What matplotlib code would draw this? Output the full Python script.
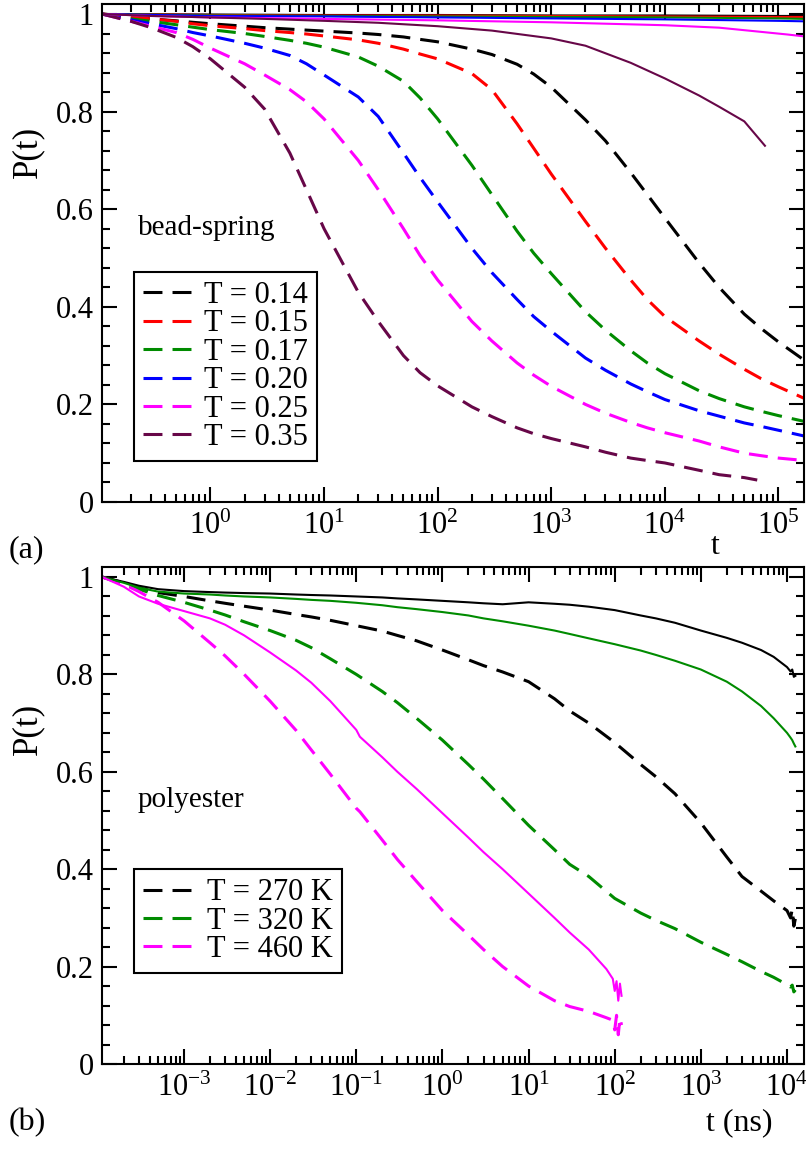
import matplotlib
matplotlib.use("Agg")
import matplotlib.pyplot as plt
from matplotlib.ticker import (FixedLocator, MultipleLocator, LogFormatterMathtext,
                               NullFormatter, FuncFormatter)

plt.rcParams['font.family'] = ['Liberation Serif', 'DejaVu Serif']
plt.rcParams['mathtext.fontset'] = 'custom'
plt.rcParams['mathtext.rm'] = 'Liberation Serif'
plt.rcParams['mathtext.it'] = 'Liberation Serif:italic'
plt.rcParams['mathtext.bf'] = 'Liberation Serif:bold'

# ---------------- (a) bead-spring model ----------------
t_bs = [0.111, 0.2, 0.3, 0.5, 0.7, 1, 2, 3, 5, 7, 10, 20, 30, 50, 70, 100, 200, 300,
        500, 700, 1e3, 2e3, 3e3, 5e3, 7e3, 1e4, 2e4, 3e4, 5e4, 7e4, 1e5, 1.7e5]
p_014 = [1.0, 0.995, 0.99, 0.986, 0.983, 0.980, 0.975, 0.972, 0.969, 0.967, 0.965,
         0.961, 0.958, 0.953, 0.948, 0.943, 0.928, 0.917, 0.897, 0.877, 0.85, 0.783,
         0.74, 0.675, 0.63, 0.582, 0.49, 0.44, 0.385, 0.356, 0.328, 0.29]
p_015 = [1.0, 0.994, 0.99, 0.985, 0.98, 0.976, 0.97, 0.966, 0.962, 0.959, 0.955,
         0.947, 0.94, 0.928, 0.918, 0.908, 0.878, 0.845, 0.775, 0.725, 0.672, 0.575,
         0.52, 0.455, 0.415, 0.38, 0.33, 0.303, 0.272, 0.253, 0.236, 0.212]
p_017 = [1.0, 0.99, 0.985, 0.978, 0.973, 0.968, 0.96, 0.954, 0.946, 0.94, 0.932,
         0.912, 0.893, 0.862, 0.828, 0.785, 0.69, 0.63, 0.555, 0.51, 0.468, 0.39,
         0.352, 0.31, 0.285, 0.263, 0.228, 0.212, 0.195, 0.186, 0.177, 0.165]
p_020 = [1.0, 0.988, 0.98, 0.97, 0.962, 0.955, 0.94, 0.93, 0.915, 0.898, 0.875,
         0.83, 0.79, 0.715, 0.665, 0.615, 0.52, 0.47, 0.415, 0.38, 0.35, 0.295,
         0.27, 0.242, 0.226, 0.21, 0.187, 0.176, 0.162, 0.155, 0.147, 0.135]
p_025 = [1.0, 0.985, 0.975, 0.962, 0.948, 0.93, 0.898, 0.875, 0.845, 0.82, 0.785,
         0.70, 0.64, 0.56, 0.505, 0.455, 0.37, 0.33, 0.285, 0.26, 0.237, 0.2,
         0.182, 0.163, 0.152, 0.142, 0.125, 0.113, 0.1, 0.095, 0.09, 0.085]
t_bs_035 = [0.111, 0.2, 0.3, 0.5, 0.7, 1, 2, 3, 5, 7, 10, 20, 30, 50, 70, 100, 200, 300,
            500, 700, 1e3, 2e3, 3e3, 5e3, 7e3, 1e4, 2e4, 3e4, 5e4, 6.5e4]
p_035 = [1.0, 0.985, 0.972, 0.952, 0.933, 0.908, 0.85, 0.805, 0.715, 0.64, 0.56,
         0.43, 0.37, 0.3, 0.265, 0.238, 0.195, 0.175, 0.152, 0.14, 0.13, 0.113,
         0.102, 0.09, 0.085, 0.08, 0.065, 0.056, 0.05, 0.045]

# solid curves of panel (a)
t_bs_solid = [0.111, 1, 10, 100, 1e3, 1e4, 1e5, 1.7e5]
s_014 = [1.0, 0.999, 0.998, 0.998, 0.997, 0.997, 0.996, 0.996]
s_015 = [1.0, 0.998, 0.997, 0.997, 0.996, 0.995, 0.994, 0.994]
s_017 = [1.0, 0.997, 0.996, 0.995, 0.994, 0.993, 0.991, 0.99]
s_020 = [1.0, 0.996, 0.995, 0.993, 0.991, 0.989, 0.986, 0.985]
t_bs_s025 = [0.111, 0.3, 1, 10, 100, 1e3, 1e4, 3e4, 6e4, 1.2e5, 1.7e5]
s_025 = [1.0, 0.996, 0.993, 0.99, 0.987, 0.983, 0.977, 0.972, 0.965, 0.958, 0.954]
t_bs_s035 = [0.111, 0.3, 1, 3, 10, 30, 100, 300, 1e3, 2e3, 5e3, 1e4, 2e4, 3e4, 5e4, 7.6e4]
s_035 = [1.0, 0.996, 0.993, 0.99, 0.986, 0.982, 0.975, 0.966, 0.95, 0.935, 0.9,
         0.868, 0.833, 0.81, 0.78, 0.73]

labels_bs = ['T = 0.14', 'T = 0.15', 'T = 0.17', 'T = 0.20', 'T = 0.25', 'T = 0.35']

# ---------------- (b) polyester ----------------
t_pe = [1.12e-4, 2e-4, 3e-4, 5e-4, 1e-3, 2e-3, 3e-3, 5e-3, 1e-2, 2e-2, 3e-2, 5e-2,
        0.1, 0.2, 0.3, 0.5, 1, 2, 3, 5, 10, 20, 30, 50, 100, 200, 300, 500,
        1e3, 2e3, 3e3, 5e3, 7e3, 1e4, 1.1e4, 1.15e4, 1.2e4, 1.25e4]
d_270 = [1.0, 0.988, 0.978, 0.968, 0.96, 0.951, 0.946, 0.94, 0.932, 0.923, 0.918,
         0.911, 0.9, 0.889, 0.88, 0.869, 0.85, 0.83, 0.818, 0.805, 0.785, 0.75,
         0.725, 0.7, 0.66, 0.615, 0.59, 0.555, 0.495, 0.425, 0.385, 0.355, 0.335,
         0.315, 0.3, 0.318, 0.283, 0.298]
d_320 = [1.0, 0.985, 0.975, 0.962, 0.948, 0.932, 0.922, 0.908, 0.89, 0.87, 0.855,
         0.832, 0.8, 0.765, 0.742, 0.71, 0.665, 0.615, 0.585, 0.545, 0.49, 0.44,
         0.41, 0.385, 0.34, 0.31, 0.295, 0.278, 0.25, 0.225, 0.21, 0.19, 0.178,
         0.163, 0.158, 0.162, 0.148, 0.152]
s_270 = [1.0, 0.99, 0.982, 0.975, 0.971, 0.969, 0.968, 0.967, 0.966, 0.964, 0.963,
         0.962, 0.96, 0.958, 0.956, 0.954, 0.951, 0.948, 0.946, 0.944, 0.948, 0.945,
         0.943, 0.939, 0.932, 0.921, 0.915, 0.906, 0.89, 0.875, 0.865, 0.85, 0.836,
         0.815, 0.806, 0.81, 0.795, 0.797]
s_320 = [1.0, 0.988, 0.978, 0.97, 0.966, 0.964, 0.962, 0.96, 0.958, 0.955, 0.953,
         0.951, 0.947, 0.942, 0.938, 0.934, 0.928, 0.921, 0.915, 0.909, 0.9, 0.89,
         0.883, 0.874, 0.862, 0.849, 0.84, 0.828, 0.81, 0.785, 0.765, 0.735, 0.71,
         0.68, 0.67, 0.665, 0.658, 0.652]
t_pe_460 = [1.12e-4, 2e-4, 3e-4, 5e-4, 1e-3, 2e-3, 3e-3, 5e-3, 1e-2, 2e-2, 3e-2, 5e-2,
            0.1, 0.11, 0.2, 0.3, 0.5, 1, 2, 3, 5, 10, 20, 30, 50, 80, 95, 100, 105,
            110, 115, 120]
d_460 = [1.0, 0.985, 0.97, 0.948, 0.91, 0.865, 0.838, 0.8, 0.745, 0.685, 0.645,
         0.595, 0.525, 0.518, 0.46, 0.42, 0.375, 0.315, 0.265, 0.235, 0.2, 0.16,
         0.13, 0.118, 0.108, 0.095, 0.09, 0.07, 0.1, 0.06, 0.095, 0.08]
s_460 = [1.0, 0.98, 0.96, 0.945, 0.93, 0.915, 0.902, 0.88, 0.845, 0.808, 0.783,
         0.745, 0.686, 0.672, 0.63, 0.6, 0.565, 0.515, 0.465, 0.435, 0.4, 0.35,
         0.3, 0.27, 0.235, 0.195, 0.175, 0.15, 0.17, 0.13, 0.165, 0.14]

labels_pe = ['T = 270 K', 'T = 320 K', 'T = 460 K']

# axis ranges and decades carrying labels
xlim_bs = (0.111, 1.677e5)
xlim_pe = (1.117e-4, 1.575e4)
decades_bs = range(-1, 6)
decades_pe = range(-4, 5)

BLACK, RED, GREEN, BLUE, MAGENTA, MAROON = ('#000000', '#ff0000', '#008b00',
                                            '#0000ff', '#ff00ff', '#670748')
DASH = (0, (6.2, 3.3))
LW_D = 2.2
LW_S = 1.5
FS = 22

fig = plt.figure(figsize=(8.06, 11.49), dpi=100)
ax1 = fig.add_axes([102 / 806, 1 - 502 / 1149, 702 / 806, 498 / 1149])
ax2 = fig.add_axes([102 / 806, 1 - 1064 / 1149, 702 / 806, 497 / 1149])


def style_axes(ax, xlim, decades):
    ax.set_xscale('log')
    ax.set_xlim(*xlim)
    ax.set_ylim(0, 1.0205)
    lo, hi = xlim
    majors = [10.0 ** n for n in decades if lo <= 10.0 ** n <= hi]
    minors = [k * 10.0 ** n for n in decades for k in range(2, 10)
              if lo <= k * 10.0 ** n <= hi]
    ax.xaxis.set_major_locator(FixedLocator(majors))
    ax.xaxis.set_minor_locator(FixedLocator(minors))
    ax.xaxis.set_major_formatter(LogFormatterMathtext())
    ax.xaxis.set_minor_formatter(NullFormatter())
    ax.yaxis.set_major_locator(MultipleLocator(0.2))
    ax.yaxis.set_minor_locator(MultipleLocator(0.04))
    ax.yaxis.set_major_formatter(FuncFormatter(
        lambda v, _: '0' if abs(v) < 1e-9 else ('1' if abs(v - 1) < 1e-9 else f'{v:.1f}')))
    ax.tick_params(which='both', direction='in', top=True, right=True, width=1.5,
                   labelsize=FS)
    ax.tick_params(which='major', length=11)
    ax.tick_params(which='minor', length=5.5)
    ax.tick_params(axis='y', pad=6)
    ax.tick_params(axis='x', pad=7)
    for sp in ax.spines.values():
        sp.set_linewidth(1.5)


style_axes(ax1, xlim_bs, decades_bs)
style_axes(ax2, xlim_pe, decades_pe)

# panel (a)
handles = []
for t, p, c in [(t_bs, p_014, BLACK), (t_bs, p_015, RED), (t_bs, p_017, GREEN),
                (t_bs, p_020, BLUE), (t_bs, p_025, MAGENTA), (t_bs_035, p_035, MAROON)]:
    h, = ax1.plot(t, p, color=c, lw=LW_D, linestyle=DASH)
    handles.append(h)
for t, p, c in [(t_bs_solid, s_014, BLACK), (t_bs_solid, s_015, RED),
                (t_bs_solid, s_017, GREEN), (t_bs_solid, s_020, BLUE),
                (t_bs_s025, s_025, MAGENTA), (t_bs_s035, s_035, MAROON)]:
    ax1.plot(t, p, color=c, lw=LW_S)

leg1 = ax1.legend(handles, labels_bs, loc='upper left', bbox_to_anchor=(0.0456, 0.462),
                  borderaxespad=0, fancybox=False, edgecolor='black', framealpha=1,
                  fontsize=FS, handlelength=1.6, handletextpad=0.4,
                  labelspacing=-0.02, borderpad=0.3)
leg1.get_frame().set_linewidth(1.5)
ax1.text(0.051, 0.55, 'bead-spring', transform=ax1.transAxes, fontsize=21,
         ha='left', va='center')

# panel (b)
handles2 = []
for t, p, c in [(t_pe, d_270, BLACK), (t_pe, d_320, GREEN), (t_pe_460, d_460, MAGENTA)]:
    h, = ax2.plot(t, p, color=c, lw=LW_D, linestyle=DASH)
    handles2.append(h)
for t, p, c in [(t_pe, s_270, BLACK), (t_pe, s_320, GREEN), (t_pe_460, s_460, MAGENTA)]:
    ax2.plot(t, p, color=c, lw=LW_S)

leg2 = ax2.legend(handles2, labels_pe, loc='upper left', bbox_to_anchor=(0.0456, 0.392),
                  borderaxespad=0, fancybox=False, edgecolor='black', framealpha=1,
                  fontsize=FS, handlelength=1.6, handletextpad=0.5,
                  labelspacing=-0.02, borderpad=0.3)
leg2.get_frame().set_linewidth(1.5)
ax2.text(0.051, 0.531, 'polyester', transform=ax2.transAxes, fontsize=21,
         ha='left', va='center')

# axis titles and panel tags
fig.text(715 / 806, 1 - 547 / 1149, 't', ha='center', va='center', fontsize=23)
fig.text(739 / 806, 1 - 1123 / 1149, 't (ns)', ha='center', va='center', fontsize=23)
fig.text(28 / 806, 1 - 152 / 1149, 'P(t)', rotation=90, ha='center', va='center',
         fontsize=25)
fig.text(28 / 806, 1 - 729 / 1149, 'P(t)', rotation=90, ha='center', va='center',
         fontsize=25)
fig.text(9 / 806, 1 - 550 / 1149, '(a)', ha='left', va='center', fontsize=23)
fig.text(9 / 806, 1 - 1123 / 1149, '(b)', ha='left', va='center', fontsize=23)

fig.savefig('out.png', dpi=100, facecolor='white')
